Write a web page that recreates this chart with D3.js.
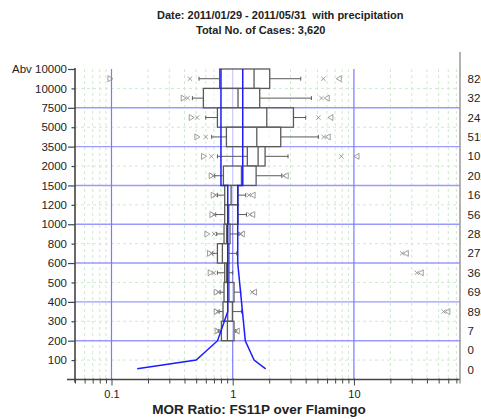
<!DOCTYPE html>
<html lang="en">
<head>
    <meta charset="UTF-8">
    <title>MOR Ratio box plot</title>
    <script src="https://d3js.org/d3.v7.min.js"></script>
    <style>
        body { margin: 0; background: #fff; }
        svg { font-family: "Liberation Sans", Arial, sans-serif; }
    </style>
</head>
<body>
<div id="chart"></div>
<script>
    // ceiling categories (top to bottom)
    var categories = ["Abv 10000", "10000", "7500", "5000", "3500", "2000", "1500", "1200",
                      "1000", "800", "600", "500", "400", "300", "200", "100"];
    var caseCounts = [826, 32, 24, 515, 10, 202, 16, 56, 282, 27, 36, 694, 893, 7, 0, 0];

    // box statistics per category (null = no data)
    var q1Values     = [0.78, 0.573, 0.748, 0.887, 1.32, 0.838, 0.859, 0.859, 0.848, 0.748, 0.859, 0.848, 0.832, 0.807, null, null];
    var medianValues = [1.50, 1.106, 1.91, 1.58, 1.62, 1.18, 0.97, 0.927, 0.89, 0.822, 0.892, 0.932, 0.909, 0.904, null, null];
    var q3Values     = [2.02, 1.67, 3.17, 2.49, 1.85, 1.56, 1.106, 1.106, 0.95, 0.932, 0.932, 1.025, 0.994, 1.025, null, null];
    var whiskerLow   = [0.527, 0.465, 0.599, 0.671, 0.748, 0.71, 0.748, 0.724, 0.738, 0.684, 0.748, 0.786, 0.771, 0.766, null, null];
    var whiskerHigh  = [3.64, 4.46, 4.0, 5.09, 2.86, 2.54, 1.28, 1.30, 1.127, 1.079, 1.0, 1.164, 1.18, 1.06, null, null];
    var outlierLow   = [0.444, 0.425, 0.509, 0.599, 0.667, 0.69, 0.72, 0.70, 0.70, 0.665, 0.70, 0.76, 0.75, 0.76, null, null];
    var outlierHigh  = [5.6, 5.4, 5.09, 5.63, 7.88, 2.62, 1.36, 1.38, 1.17, 25, 33, 1.45, 55, 1.07, null, null];
    var minValues    = [0.098, 0.394, 0.459, 0.511, 0.58, 0.671, 0.697, 0.68, 0.618, 0.65, 0.658, 0.738, 0.738, 0.75, null, null];
    var maxValues    = [7.5, 5.97, 6.4, 6.08, 10.5, 2.74, 1.46, 1.45, 1.19, 26.8, 35.6, 1.5, 59, 1.08, null, null];

    // ratio limit envelope: [category position, ratio]
    var lowerLimit = [[0, 0.80], [6, 0.80], [6, 0.91], [12.5, 0.91], [14, 0.75], [15, 0.50], [15.45, 0.163]];
    var upperLimit = [[0, 1.21], [6, 1.21], [6, 1.10], [10, 1.10], [14, 1.27], [15, 1.50], [15.45, 1.87]];

    var xMajor = [0.1, 1, 10];
    var xMinor = [0.05, 0.06, 0.07, 0.08, 0.09, 0.2, 0.3, 0.4, 0.5, 0.6, 0.7, 0.8, 0.9,
                  2, 3, 4, 5, 6, 7, 8, 9, 20, 30, 40, 50, 60, 70];

    var svg = d3.select("#chart").append("svg")
        .attr("width", 481)
        .attr("height", 419);

    var plotLeft = 75, plotRight = 460, plotTop = 69, plotBottom = 379.5;

    var x = d3.scaleLog().domain([0.05, 75]).range([plotLeft, plotRight]);
    var y = d3.scaleLinear().domain([0, categories.length]).range([plotTop, plotBottom]);
    var step = y(1) - y(0);

    // green dashed grid
    svg.append("g").selectAll("line")
        .data(xMinor.filter(function(d) { return d > 0.05; }))
        .enter().append("line")
        .attr("x1", function(d) { return x(d); })
        .attr("x2", function(d) { return x(d); })
        .attr("y1", plotTop).attr("y2", plotBottom)
        .attr("stroke", "#c8eec8").attr("stroke-width", 1)
        .attr("stroke-dasharray", "3,3");

    svg.append("g").selectAll("line")
        .data(d3.range(1, categories.length, 2))
        .enter().append("line")
        .attr("x1", plotLeft).attr("x2", plotRight)
        .attr("y1", function(d) { return y(d); })
        .attr("y2", function(d) { return y(d); })
        .attr("stroke", "#c8eec8").attr("stroke-width", 1)
        .attr("stroke-dasharray", "3,3");

    // blue major grid
    svg.append("g").selectAll("line")
        .data(d3.range(2, categories.length, 2))
        .enter().append("line")
        .attr("x1", plotLeft).attr("x2", plotRight)
        .attr("y1", function(d) { return y(d); })
        .attr("y2", function(d) { return y(d); })
        .attr("stroke", "#9a9aff").attr("stroke-width", 1.4);

    svg.append("g").selectAll("line")
        .data(xMajor)
        .enter().append("line")
        .attr("x1", function(d) { return x(d); })
        .attr("x2", function(d) { return x(d); })
        .attr("y1", plotTop).attr("y2", plotBottom)
        .attr("stroke", "#7a7aff").attr("stroke-width", 1.2);

    // box plots
    var rows = categories.map(function(c, i) {
        return { i: i, q1: q1Values[i], med: medianValues[i], q3: q3Values[i],
                 wl: whiskerLow[i], wh: whiskerHigh[i], ol: outlierLow[i], oh: outlierHigh[i],
                 mn: minValues[i], mx: maxValues[i] };
    }).filter(function(d) { return d.q1 !== null; });

    var boxColor = "#5a5a5a";
    var g = svg.append("g");

    rows.forEach(function(d) {
        var cy = y(d.i) + step / 2;

        // whiskers
        g.append("line").attr("x1", x(d.wl)).attr("x2", x(d.q1))
            .attr("y1", cy).attr("y2", cy).attr("stroke", boxColor).attr("stroke-width", 1);
        g.append("line").attr("x1", x(d.q3)).attr("x2", x(d.wh))
            .attr("y1", cy).attr("y2", cy).attr("stroke", boxColor).attr("stroke-width", 1);
        [d.wl, d.wh].forEach(function(v) {
            g.append("line").attr("x1", x(v)).attr("x2", x(v))
                .attr("y1", cy - 2).attr("y2", cy + 2)
                .attr("stroke", boxColor).attr("stroke-width", 1);
        });

        // box
        g.append("rect")
            .attr("x", x(d.q1)).attr("y", y(d.i))
            .attr("width", x(d.q3) - x(d.q1)).attr("height", step)
            .attr("fill", "#fff").attr("fill-opacity", 0.6)
            .attr("stroke", boxColor).attr("stroke-width", 1.3);
        g.append("line").attr("x1", x(d.med)).attr("x2", x(d.med))
            .attr("y1", y(d.i)).attr("y2", y(d.i + 1))
            .attr("stroke", boxColor).attr("stroke-width", 1.3);

        // x markers for outliers
        [d.ol, d.oh].forEach(function(v) {
            var px = x(v);
            g.append("path")
                .attr("d", "M" + (px - 2.2) + "," + (cy - 2.2) + "L" + (px + 2.2) + "," + (cy + 2.2) +
                           "M" + (px - 2.2) + "," + (cy + 2.2) + "L" + (px + 2.2) + "," + (cy - 2.2))
                .attr("stroke", "#888").attr("stroke-width", 0.8).attr("fill", "none");
        });

        // triangles for min / max
        var pmin = x(d.mn), pmax = x(d.mx);
        g.append("path")
            .attr("d", "M" + (pmin - 2.5) + "," + (cy - 3) + "L" + (pmin + 2.5) + "," + cy +
                       "L" + (pmin - 2.5) + "," + (cy + 3) + "Z")
            .attr("stroke", "#888").attr("stroke-width", 0.8).attr("fill", "none");
        g.append("path")
            .attr("d", "M" + (pmax + 2.5) + "," + (cy - 3) + "L" + (pmax - 2.5) + "," + cy +
                       "L" + (pmax + 2.5) + "," + (cy + 3) + "Z")
            .attr("stroke", "#888").attr("stroke-width", 0.8).attr("fill", "none");
    });

    // limit envelope
    var envLine = d3.line()
        .x(function(d) { return x(d[1]); })
        .y(function(d) { return y(d[0]); });

    [lowerLimit, upperLimit].forEach(function(pts) {
        svg.append("path")
            .datum(pts)
            .attr("d", envLine)
            .attr("fill", "none")
            .attr("stroke", "#1c1cff")
            .attr("stroke-width", 1.5);
    });

    // axes
    var yAxis = svg.append("g")
        .attr("transform", "translate(" + plotLeft + ",0)")
        .call(d3.axisLeft(y)
            .tickValues(d3.range(categories.length))
            .tickFormat(function(i) { return categories[i]; })
            .tickSizeOuter(0)
            .tickPadding(2));
    yAxis.select(".domain").attr("stroke", "#444").attr("stroke-width", 1.6)
        .attr("d", "M0," + (plotTop - 1) + "V" + (plotBottom + 3));
    yAxis.selectAll(".tick line")
        .attr("x2", function(i) { return i % 2 === 0 ? -7 : -3.5; })
        .attr("stroke", "#444").attr("stroke-width", 1.2);
    yAxis.selectAll(".tick text")
        .attr("x", -8)
        .style("font-size", "11.5px").attr("fill", "#222");

    var xAxis = svg.append("g")
        .attr("transform", "translate(0," + plotBottom + ")")
        .call(d3.axisBottom(x)
            .tickValues(xMajor.concat(xMinor))
            .tickFormat(function(d) { return xMajor.indexOf(d) >= 0 ? d3.format("")(d) : ""; })
            .tickSizeOuter(0)
            .tickPadding(5));
    xAxis.select(".domain").attr("stroke", "#444").attr("stroke-width", 1.6)
        .attr("d", "M" + (plotLeft - 8) + ",0H" + plotRight);
    xAxis.selectAll(".tick line")
        .attr("y1", -1)
        .attr("y2", function(d) { return xMajor.indexOf(d) >= 0 ? 6 : 4; })
        .attr("stroke", "#444").attr("stroke-width", 1);
    xAxis.selectAll(".tick text")
        .style("font-size", "11px").attr("fill", "#222");

    // right frame and case counts
    svg.append("line")
        .attr("x1", plotRight).attr("x2", plotRight)
        .attr("y1", 52).attr("y2", plotBottom + 4)
        .attr("stroke", "#999").attr("stroke-width", 1.5);

    svg.append("g").selectAll("text")
        .data(caseCounts)
        .enter().append("text")
        .attr("x", 467.5)
        .attr("y", function(d, i) { return y(i) + step / 2 + 4; })
        .style("font-size", "11.5px")
        .attr("fill", "#222")
        .text(function(d) { return d; });

    // titles
    svg.append("text")
        .attr("x", 157).attr("y", 19)
        .style("font-size", "11px").style("font-weight", "bold")
        .style("white-space", "pre")
        .attr("fill", "#222")
        .text("Date: 2011/01/29 - 2011/05/31  with precipitation");

    svg.append("text")
        .attr("x", 196).attr("y", 34)
        .style("font-size", "11px").style("font-weight", "bold")
        .attr("fill", "#222")
        .text("Total No. of Cases: 3,620");

    svg.append("text")
        .attr("x", 259).attr("y", 414)
        .attr("text-anchor", "middle")
        .style("font-size", "13.5px").style("font-weight", "bold")
        .attr("fill", "#222")
        .text("MOR Ratio: FS11P over Flamingo");
</script>
</body>
</html>
